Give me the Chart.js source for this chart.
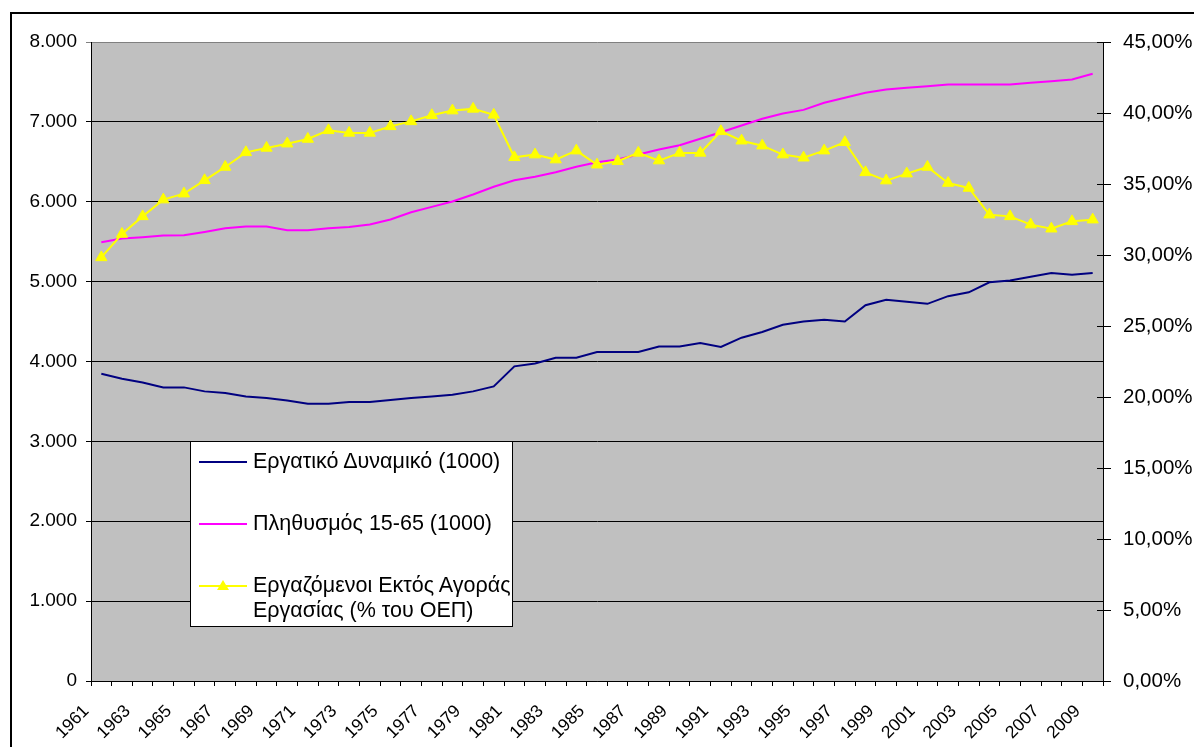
<!DOCTYPE html>
<html>
<head>
<meta charset="utf-8">
<script src="https://cdn.jsdelivr.net/npm/chart.js@4.4.1/dist/chart.umd.min.js"></script>
<style>
  html, body { margin: 0; padding: 0; background: #fff; overflow: hidden; }
  #wrap { position: relative; width: 1194px; height: 747px; }
  #legend {
    position: absolute; left: 190px; top: 441px; width: 323px; height: 186px;
    background: #fff; border: 1px solid #000; box-sizing: border-box;
    font-family: "Liberation Sans", Arial, sans-serif; font-size: 21.5px; color: #000;
  }
  .item { position: absolute; left: 8px; }
  .sample { position: absolute; left: 0; top: 12px; width: 48px; height: 2px; }
  .tri { position: absolute; left: 18px; top: 7px; width: 0; height: 0;
         border-left: 6px solid transparent; border-right: 6px solid transparent; border-bottom: 10px solid #ff0; }
  .txt { position: absolute; left: 54px; top: 0; width: 262px; line-height: 25px; white-space: normal; }
</style>
</head>
<body>
<div id="wrap">
  <canvas id="laborChart" width="1194" height="747"></canvas>
  <div id="legend"></div>
</div>
<script>
(() => {
  'use strict'

  const years = [
    '1961', '1962', '1963', '1964', '1965', '1966', '1967', '1968', '1969', '1970',
    '1971', '1972', '1973', '1974', '1975', '1976', '1977', '1978', '1979', '1980',
    '1981', '1982', '1983', '1984', '1985', '1986', '1987', '1988', '1989', '1990',
    '1991', '1992', '1993', '1994', '1995', '1996', '1997', '1998', '1999', '2000',
    '2001', '2002', '2003', '2004', '2005', '2006', '2007', '2008', '2009'
  ]

  // Εργατικό Δυναμικό (χιλ.)
  const labourForce = [
    3847, 3784, 3738, 3676, 3676, 3626, 3605, 3563, 3542, 3513,
    3471, 3471, 3492, 3492, 3518, 3542, 3563, 3584, 3626, 3688,
    3939, 3976, 4048, 4048, 4120, 4120, 4120, 4188, 4188, 4231,
    4183, 4298, 4370, 4459, 4501, 4522, 4501, 4704, 4772, 4747,
    4722, 4818, 4866, 4992, 5014, 5060, 5107, 5085, 5107
  ]

  // Πληθυσμός 15-65 (χιλ.)
  const population = [
    5493, 5539, 5555, 5576, 5580, 5622, 5668, 5689, 5689, 5643,
    5643, 5668, 5685, 5714, 5777, 5869, 5936, 6003, 6090, 6187,
    6270, 6312, 6370, 6437, 6495, 6529, 6591, 6654, 6708, 6788,
    6871, 6955, 7039, 7105, 7150, 7239, 7302, 7364, 7406, 7427,
    7447, 7469, 7469, 7469, 7469, 7490, 7510, 7531, 7603
  ]

  // % εκτός αγοράς εργασίας
  const outsideShare = [
    29.83, 31.48, 32.72, 33.90, 34.32, 35.26, 36.20, 37.23, 37.54, 37.84,
    38.17, 38.78, 38.60, 38.60, 39.06, 39.41, 39.84, 40.17, 40.29, 39.87,
    36.88, 37.07, 36.72, 37.35, 36.36, 36.60, 37.19, 36.65, 37.19, 37.19,
    38.71, 38.05, 37.70, 37.07, 36.85, 37.35, 37.94, 35.82, 35.24, 35.73,
    36.20, 35.07, 34.72, 32.84, 32.72, 32.14, 31.85, 32.37, 32.49
  ]

  const seriesNames = [
    'Εργατικό Δυναμικό (1000)',
    'Πληθυσμός 15-65 (1000)',
    'Εργαζόμενοι Εκτός Αγοράς Εργασίας (% του ΟΕΠ)'
  ]

  Chart.defaults.font.family = '"Liberation Sans", Arial, sans-serif'
  Chart.defaults.font.size = 19
  Chart.defaults.color = '#000'

  const thousands = v => String(v).replace(/\B(?=(\d{3})+(?!\d))/g, '.')
  const percent = v => v.toFixed(2).replace('.', ',') + '%'

  const frame = {
    id: 'frame',
    beforeDraw (chart) {
      const { ctx, chartArea: a } = chart
      ctx.save()
      ctx.fillStyle = '#fff'
      ctx.fillRect(0, 0, chart.width, chart.height)
      ctx.fillStyle = '#c0c0c0'
      ctx.fillRect(a.left, a.top, a.right - a.left, a.bottom - a.top)
      ctx.strokeStyle = '#000'
      ctx.lineWidth = 2
      ctx.beginPath()
      ctx.moveTo(11, chart.height)
      ctx.lineTo(11, 13)
      ctx.lineTo(chart.width, 13)
      ctx.stroke()
      ctx.restore()
    },
    afterDraw (chart) {
      // right axis ticks cross into the plot
      const { ctx, chartArea: a } = chart
      const s = chart.scales.y1
      ctx.save()
      ctx.strokeStyle = '#000'
      ctx.lineWidth = 1
      s.ticks.forEach(t => {
        const y = Math.round(s.getPixelForValue(t.value)) + 0.5
        ctx.beginPath()
        ctx.moveTo(a.right - 6, y)
        ctx.lineTo(a.right, y)
        ctx.stroke()
      })
      ctx.restore()
    }
  }

  const chart = new Chart(document.getElementById('laborChart'), {
    type: 'line',
    data: {
      labels: years,
      datasets: [{
        label: seriesNames[0],
        data: labourForce,
        yAxisID: 'y',
        borderColor: '#000080',
        backgroundColor: '#000080',
        borderWidth: 2,
        pointRadius: 0,
        lineTension: 0,
        order: 2
      }, {
        label: seriesNames[1],
        data: population,
        yAxisID: 'y',
        borderColor: '#ff00ff',
        backgroundColor: '#ff00ff',
        borderWidth: 2,
        pointRadius: 0,
        lineTension: 0,
        order: 1
      }, {
        label: seriesNames[2],
        data: outsideShare,
        yAxisID: 'y1',
        borderColor: '#ffff00',
        backgroundColor: '#ffff00',
        pointBackgroundColor: '#ffff00',
        pointBorderColor: '#ffff00',
        borderWidth: 2,
        pointStyle: 'triangle',
        pointRadius: 6.5,
        pointBorderWidth: 1,
        lineTension: 0,
        order: 0
      }]
    },
    options: {
      responsive: false,
      animation: false,
      layout: { padding: { top: 42, left: 0, right: 0, bottom: 0 } },
      plugins: {
        legend: { display: false },
        tooltip: { enabled: false }
      },
      scales: {
        x: {
          offset: true,
          grid: { offset: true, drawOnChartArea: false, drawTicks: true, tickLength: 5, color: '#000' },
          border: { color: '#000', width: 1 },
          ticks: {
            autoSkip: false,
            minRotation: 45,
            maxRotation: 45,
            padding: 15,
            labelOffset: -15,
            font: { size: 17.5 },
            callback: (v, i) => (i % 2 === 0 ? years[i] : '')
          },
          afterFit: s => { s.height = 66 }
        },
        y: {
          position: 'left',
          min: 0,
          max: 8000,
          ticks: { stepSize: 1000, padding: 9, font: { size: 19 }, callback: v => thousands(v) },
          grid: {
            color: c => (c.tick && c.tick.value === 8000 ? '#808080' : '#000'),
            tickLength: 5,
            lineWidth: 1
          },
          border: { color: '#000', width: 1 },
          afterFit: s => { s.width = 91 }
        },
        y1: {
          position: 'right',
          min: 0,
          max: 45,
          ticks: { stepSize: 5, padding: 12, font: { size: 20.5 }, callback: v => percent(v) },
          grid: { drawOnChartArea: false, tickLength: 8, color: '#000' },
          border: { color: '#000', width: 1 },
          afterFit: s => { s.width = 91 }
        }
      }
    },
    plugins: [frame]
  })

  // legend box built from the chart's datasets
  const legend = document.getElementById('legend')
  const rowTops = [7, 69, 131]
  chart.data.datasets.forEach((ds, i) => {
    const item = document.createElement('div')
    item.className = 'item'
    item.style.top = rowTops[i] + 'px'
    const line = document.createElement('div')
    line.className = 'sample'
    line.style.background = ds.borderColor
    item.appendChild(line)
    if (ds.pointStyle === 'triangle') {
      const tri = document.createElement('div')
      tri.className = 'tri'
      item.appendChild(tri)
    }
    const txt = document.createElement('div')
    txt.className = 'txt'
    txt.textContent = ds.label
    item.appendChild(txt)
    legend.appendChild(item)
  })
})()
</script>
</body>
</html>
